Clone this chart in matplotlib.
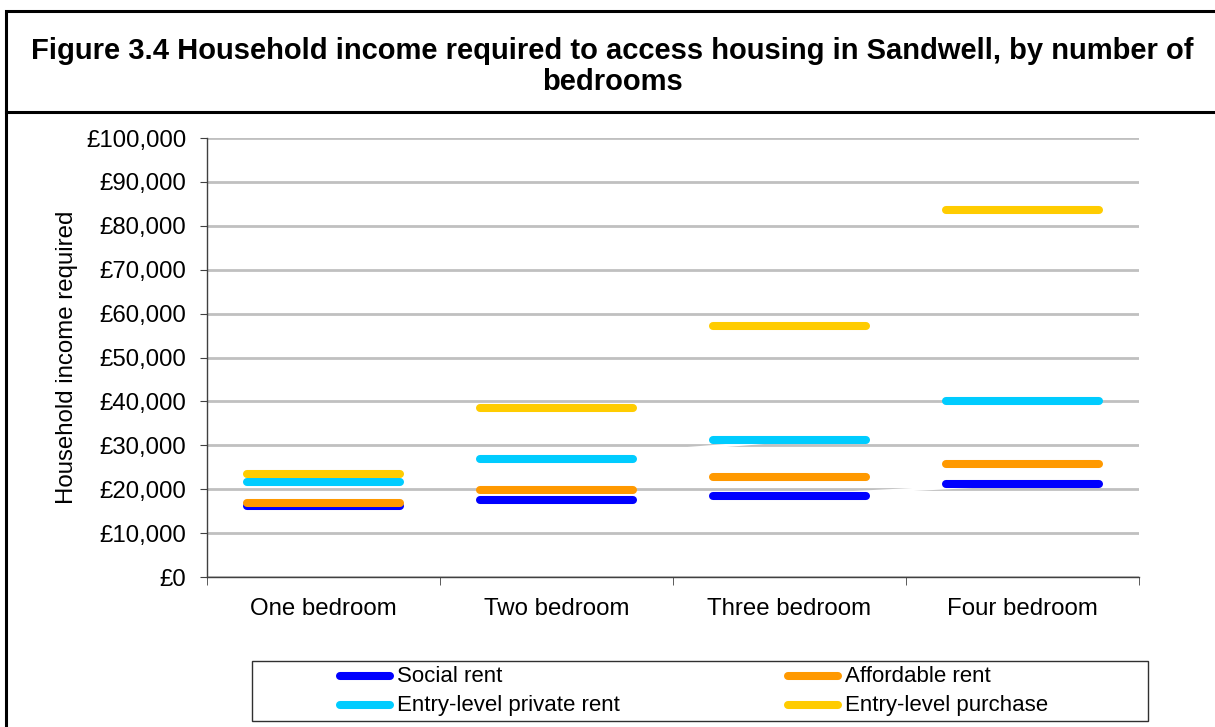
import matplotlib.pyplot as plt
from matplotlib.lines import Line2D
from matplotlib.patches import Rectangle
from matplotlib.ticker import FuncFormatter

plt.rcParams['font.family'] = ['Liberation Sans', 'DejaVu Sans']

# income needed (£) per bedroom size
categories = ["One bedroom", "Two bedroom", "Three bedroom", "Four bedroom"]
series_names = ["Social rent", "Affordable rent", "Entry-level private rent", "Entry-level purchase"]
social_rent = [16200, 17500, 18500, 21200]
affordable_rent = [16900, 19900, 22700, 25700]
private_rent = [21600, 26900, 31100, 40100]
purchase = [23500, 38500, 57200, 83600]
colours = ["#0000FF", "#FF9900", "#00CCFF", "#FFCC00"]
# the rent series keep a white joining line (it only shows where it cuts a gridline)
white_join = [True, True, True, False]

W, H = 1215, 727
fig = plt.figure(figsize=(W / 100, H / 100), dpi=100)
ax = fig.add_axes([207 / W, 1 - 577 / H, 932 / W, 439 / H])

x = list(range(len(categories)))
half = 0.33
for vals, col, join in zip([social_rent, affordable_rent, private_rent, purchase], colours, white_join):
    if join:
        ax.plot(x, vals, color="white", lw=2.2, zorder=1.5)
    for xi, v in zip(x, vals):
        ax.plot([xi - half, xi + half], [v, v], color=col, lw=5.8,
                solid_capstyle="round", zorder=3)

ax.set_xlim(-0.5, len(categories) - 0.5)
ax.set_ylim(0, 100000)
ax.set_yticks(range(0, 100001, 10000))
ax.yaxis.set_major_formatter(FuncFormatter(lambda v, p: "£{:,.0f}".format(v)))
ax.set_xticks(x)
ax.set_xticklabels(categories)
ax.set_xticks([i - 0.5 for i in range(len(categories) + 1)], minor=True)
ax.tick_params(axis="x", which="major", length=0, pad=15, labelsize=17.3)
ax.tick_params(axis="x", which="minor", length=6, color="#404040", direction="out")
ax.tick_params(axis="y", length=5, color="#404040", pad=10, labelsize=17.3)
ax.grid(axis="y", color="#C0C0C0", lw=2)
ax.set_axisbelow(True)
for s in ["top", "right"]:
    ax.spines[s].set_visible(False)
for s in ["left", "bottom"]:
    ax.spines[s].set_color("#404040")
    ax.spines[s].set_linewidth(1)
ax.set_ylabel("Household income required", fontsize=17.3, labelpad=6)

# outer frame and title box
fig.patches.append(Rectangle((6 / W, -0.05), 1.1, 1 - 11 / H + 0.05, transform=fig.transFigure,
                             fill=False, edgecolor="black", lw=2.2, clip_on=False))
fig.add_artist(Line2D([6 / W, 1.05], [1 - 112 / H] * 2, color="black", lw=2.2))
fig.text(612 / W, 1 - 66.5 / H,
         "Figure 3.4 Household income required to access housing in Sandwell, by number of\nbedrooms",
         ha="center", va="center", fontsize=21, fontweight="bold", linespacing=1.1)

# legend box
fig.patches.append(Rectangle((252 / W, 1 - 721 / H), 896 / W, 60 / H, transform=fig.transFigure,
                             fill=False, edgecolor="#303030", lw=1))
legend_pos = [(336, 676), (784, 676), (336, 705), (784, 705)]
for (lx, ly), name, col in zip(legend_pos, series_names, colours):
    fig.add_artist(Line2D([(lx + 4) / W, (lx + 54) / W], [1 - ly / H] * 2, color=col, lw=5.8,
                          solid_capstyle="round"))
    fig.text((lx + 61) / W, 1 - ly / H, name, va="center", ha="left", fontsize=16)

fig.savefig("out.png", dpi=100)
